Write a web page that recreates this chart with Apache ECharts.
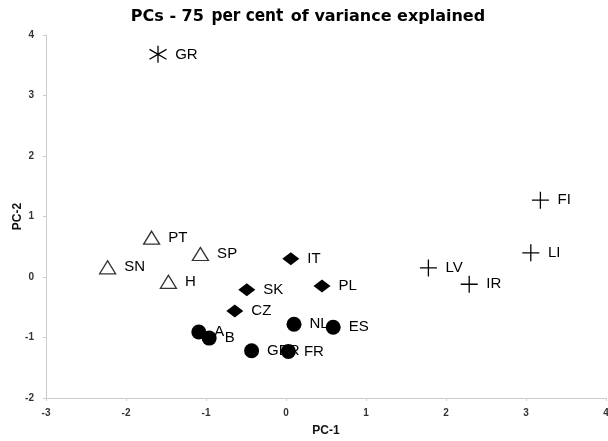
<!DOCTYPE html>
<html><head><meta charset="utf-8">
<script src="https://cdn.jsdelivr.net/npm/echarts@6/dist/echarts.min.js"></script>
<style>html,body{margin:0;padding:0;background:#fff}#c{width:608px;height:441px}</style>
</head><body><div id="c"></div>
<script>
// Groups of countries with PC-1 / PC-2 scores
const asteriskNames = ['GR'];
const asteriskPC1 = [-1.60];
const asteriskPC2 = [3.68];

const triangleNames = ['PT', 'SP', 'SN', 'H'];
const trianglePC1 = [-1.68, -1.07, -2.23, -1.47];
const trianglePC2 = [0.65, 0.38, 0.16, -0.08];

const diamondNames = ['IT', 'SK', 'PL', 'CZ'];
const diamondPC1 = [0.06, -0.49, 0.45, -0.64];
const diamondPC2 = [0.30, -0.21, -0.15, -0.56];

const circleNames = ['A', 'B', 'GER', 'FR', 'NL', 'ES'];
const circlePC1 = [-1.09, -0.96, -0.43, 0.03, 0.10, 0.59];
const circlePC2 = [-0.91, -1.01, -1.22, -1.23, -0.78, -0.83];

const plusNames = ['FI', 'LI', 'LV', 'IR'];
const plusPC1 = [3.18, 3.06, 1.78, 2.29];
const plusPC2 = [1.27, 0.40, 0.15, -0.12];

const xTicks = [-3, -2, -1, 0, 1, 2, 3, 4];
const yTicks = [-2, -1, 0, 1, 2, 3, 4];

function pts(names, xs, ys) {
  return names.map((n, i) => ({ name: n, value: [xs[i], ys[i]] }));
}
const lbl = {
  show: true, position: 'right', distance: 8,
  formatter: p => p.name,
  fontFamily: 'Liberation Sans, Arial, sans-serif', fontSize: 15, color: '#000'
};
const chart = echarts.init(document.getElementById('c'));
chart.setOption({
  animation: false,
  title: {
    text: '{a|PCs - 75 }{b|per cent}{a| of variance explained}',
    left: 303, top: 3, textAlign: 'center',
    textStyle: {
      rich: {
        a: { fontFamily: 'DejaVu Sans, sans-serif', fontWeight: 'bold', fontSize: 16, color: '#000' },
        b: { fontFamily: 'Liberation Sans Narrow, DejaVu Sans Condensed, sans-serif', fontSize: 17, color: '#000', padding: [0, 2, 0, 2] }
      }
    }
  },
  grid: { left: 46, right: 2, top: 35, bottom: 43, containLabel: false, outerBoundsMode: 'none' },
  xAxis: {
    type: 'value', min: xTicks[0], max: xTicks[xTicks.length - 1], interval: 1,
    name: 'PC-1', nameLocation: 'middle', nameGap: 27, nameMoveOverlap: false,
    nameTextStyle: { fontFamily: 'Liberation Sans, Arial, sans-serif', fontWeight: 'bold', fontSize: 12, color: '#111' },
    axisLine: { show: true, onZero: false, lineStyle: { color: '#ccc', width: 1 } },
    axisTick: { show: true, length: 3, lineStyle: { color: '#ccc' } },
    axisLabel: { fontFamily: 'Liberation Sans, Arial, sans-serif', fontWeight: 'bold', fontSize: 10, color: '#333', margin: 10 },
    splitLine: { show: false }
  },
  yAxis: {
    type: 'value', min: yTicks[0], max: yTicks[yTicks.length - 1], interval: 1,
    name: 'PC-2', nameLocation: 'middle', nameGap: 22, nameMoveOverlap: false,
    nameTextStyle: { fontFamily: 'Liberation Sans, Arial, sans-serif', fontWeight: 'bold', fontSize: 12, color: '#111' },
    axisLine: { show: true, onZero: false, lineStyle: { color: '#ccc', width: 1 } },
    axisTick: { show: true, length: 3, lineStyle: { color: '#ccc' } },
    axisLabel: { fontFamily: 'Liberation Sans, Arial, sans-serif', fontWeight: 'bold', fontSize: 10, color: '#333', margin: 12 },
    splitLine: { show: false }
  },
  series: [
    { type: 'scatter', data: pts(asteriskNames, asteriskPC1, asteriskPC2),
      symbol: 'path://M5,0L5,10M0.9,2.1L9.1,7.9M0.9,7.9L9.1,2.1', symbolSize: 17,
      itemStyle: { color: 'rgba(0,0,0,0)', borderColor: '#000', borderWidth: 1.3, opacity: 1 }, label: lbl },
    { type: 'scatter', data: pts(triangleNames, trianglePC1, trianglePC2),
      symbol: 'triangle', symbolSize: [16, 13],
      itemStyle: { color: '#fff', borderColor: '#333', borderWidth: 1.3, opacity: 1 }, label: lbl },
    { type: 'scatter', data: pts(diamondNames, diamondPC1, diamondPC2),
      symbol: 'diamond', symbolSize: [17, 13],
      itemStyle: { color: '#000', opacity: 1 }, label: lbl },
    { type: 'scatter', data: pts(circleNames, circlePC1, circlePC2),
      symbol: 'circle', symbolSize: 15,
      itemStyle: { color: '#000', opacity: 1 }, label: lbl },
    { type: 'scatter', data: pts(plusNames, plusPC1, plusPC2),
      symbol: 'path://M0,5L10,5M5,0L5,10', symbolSize: 17,
      itemStyle: { color: 'rgba(0,0,0,0)', borderColor: '#000', borderWidth: 1.3, opacity: 1 }, label: lbl }
  ]
});
</script></body></html>
